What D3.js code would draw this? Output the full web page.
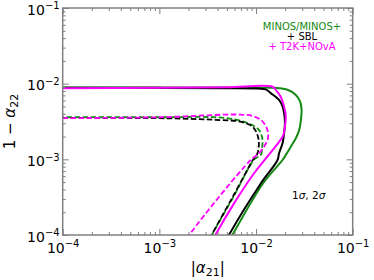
<!DOCTYPE html>
<html>
<head>
<meta charset="utf-8">
<script src="https://cdn.jsdelivr.net/npm/d3@7"></script>
<style>
  body { margin: 0; background: #fff; }
  text { font-family: "DejaVu Sans", sans-serif; }
</style>
</head>
<body>
<div id="chart-area"></div>
<script>
// contour points: [|alpha21|, 1 - alpha22]
var greenSolid = [[1e-4,0.0089],[1e-3,0.0089],[0.006,0.0089],[0.0154,0.0088],[0.0212,0.0083],[0.0258,0.0071],[0.0286,0.0058],[0.0296,0.0045],[0.0291,0.0033],[0.028,0.00245],[0.0258,0.0019],[0.0229,0.00147],[0.0203,0.00114],[0.0188,0.00098],[0.0118,0.00048],[0.0057,0.0001],[0.0046,0.00006]]
var blackSolid = [[1e-4,0.00885],[1e-3,0.0088],[0.005,0.0087],[0.0105,0.0086],[0.0126,0.0084],[0.0142,0.0075],[0.0173,0.0061],[0.0188,0.005],[0.0195,0.0041],[0.0199,0.003],[0.0195,0.0022],[0.0188,0.00163],[0.0173,0.0012],[0.0167,0.00098],[0.0112,0.00048],[0.00525,0.0001],[0.0043,0.00006]]
var magentaSolid = [[1e-4,0.0087],[1e-3,0.0088],[0.005,0.009],[0.0148,0.0091],[0.016,0.0083],[0.018,0.0067],[0.0195,0.005],[0.0203,0.0037],[0.0199,0.0027],[0.0192,0.0021],[0.0164,0.00155],[0.0131,0.00109],[0.0095,0.00065],[0.0059,0.00026],[0.0038,0.0001],[0.0031,0.00006]]
var greenDashed = [[1e-4,0.0036],[1e-3,0.0036],[0.005,0.0035],[0.0088,0.0029],[0.0107,0.00245],[0.0116,0.0019],[0.0116,0.00147],[0.0112,0.00114],[0.0096,0.00100],[0.006,0.00034],[0.0035,0.0001],[0.0029,0.00006]]
var blackDashed = [[1e-4,0.0035],[1e-3,0.0035],[0.0043,0.0033],[0.0069,0.00315],[0.0092,0.0027],[0.01035,0.0021],[0.0107,0.00163],[0.01035,0.0012],[0.0095,0.00103],[0.0059,0.00034],[0.00347,0.0001],[0.0028,0.00006]]
var magentaDashed = [[1e-4,0.0035],[1e-3,0.0036],[0.0069,0.0039],[0.0095,0.0037],[0.0116,0.0032],[0.0131,0.00245],[0.0133,0.0019],[0.0121,0.00147],[0.0107,0.0012],[0.0088,0.00098],[0.0021,0.000105],[0.0016,0.00006]]

var curves = [
  {pts: greenSolid, color: "#138a13", dash: null, offset: 0},
  {pts: greenDashed, color: "#138a13", dash: "5.5,2.5", offset: 4},
  {pts: blackSolid, color: "#000", dash: null, offset: 0},
  {pts: blackDashed, color: "#000", dash: "5.5,2.5", offset: 0},
  {pts: magentaSolid, color: "#ff00ff", dash: null, offset: 0},
  {pts: magentaDashed, color: "#ff00ff", dash: "5.5,2.5", offset: 0}
]

var majorExps = [-4, -3, -2, -1]
var legendLines = ["MINOS/MINOS+", "+ SBL", "+ T2K+NOvA"]
var legendColors = ["#138a13", "#000", "#ff00ff"]

var canvasWidth = 374, canvasHeight = 280
var plot = {left: 62.7, right: 352.7, top: 8, bottom: 235}

var svg = d3.select("#chart-area").append("svg")
  .attr("width", canvasWidth).attr("height", canvasHeight)

var x = d3.scaleLog().domain([1e-4, 1e-1]).range([plot.left, plot.right])
var y = d3.scaleLog().domain([1e-4, 1e-1]).range([plot.bottom, plot.top])

var majors = majorExps.map(function(e){ return Math.pow(10, e) })
var minors = []
for (var e = -4; e < -1; e++) {
  for (var k = 2; k <= 9; k++) minors.push(k * Math.pow(10, e))
}

svg.append("clipPath").attr("id", "clip")
  .append("rect")
  .attr("x", plot.left).attr("y", plot.top)
  .attr("width", plot.right - plot.left).attr("height", plot.bottom - plot.top)

var line = d3.line()
  .x(function(d){ return x(d[0]) })
  .y(function(d){ return y(d[1]) })
  .curve(d3.curveCatmullRom.alpha(0.5))

svg.append("g").attr("clip-path", "url(#clip)")
  .selectAll("path")
  .data(curves)
  .enter().append("path")
    .attr("d", function(d){ return line(d.pts) })
    .attr("fill", "none")
    .attr("stroke", function(d){ return d.color })
    .attr("stroke-width", function(d){ return d.dash ? 1.8 : 2 })
    .attr("stroke-dasharray", function(d){ return d.dash })
    .attr("stroke-dashoffset", function(d){ return d.offset })

var frameColor = "#808080"

function styleAxis(g) {
  g.select(".domain").remove()
  g.selectAll(".tick line").attr("stroke", frameColor).attr("stroke-width", 1)
}

function supLabel(g) {
  g.selectAll(".tick text").each(function(d){
    var t = d3.select(this).text(null)
    t.append("tspan").text("10")
    t.append("tspan").attr("dy", "-0.55em").attr("font-size", "10px")
      .text("\u2212" + Math.round(-Math.log10(d)))
  })
}

// bottom
svg.append("g").attr("transform", "translate(0," + plot.bottom + ")")
  .call(d3.axisBottom(x).tickValues(minors).tickSize(-3).tickFormat(""))
  .call(styleAxis)
svg.append("g").attr("transform", "translate(0," + plot.bottom + ")")
  .call(d3.axisBottom(x).tickValues(majors).tickSize(-6).tickPadding(8))
  .call(styleAxis)
  .call(supLabel)
  .selectAll("text").attr("font-size", "14px").attr("fill", "#000")
  .attr("font-family", "DejaVu Sans")

// top
svg.append("g").attr("transform", "translate(0," + plot.top + ")")
  .call(d3.axisTop(x).tickValues(minors).tickSize(-3).tickFormat(""))
  .call(styleAxis)
svg.append("g").attr("transform", "translate(0," + plot.top + ")")
  .call(d3.axisTop(x).tickValues(majors).tickSize(-6).tickFormat(""))
  .call(styleAxis)

// left
svg.append("g").attr("transform", "translate(" + plot.left + ",0)")
  .call(d3.axisLeft(y).tickValues(minors).tickSize(-3).tickFormat(""))
  .call(styleAxis)
svg.append("g").attr("transform", "translate(" + plot.left + ",0)")
  .call(d3.axisLeft(y).tickValues(majors).tickSize(-6).tickPadding(3))
  .call(styleAxis)
  .call(supLabel)
  .selectAll("text").attr("font-size", "14px").attr("fill", "#000")
  .attr("font-family", "DejaVu Sans").attr("dy", "0.45em")

// right
svg.append("g").attr("transform", "translate(" + plot.right + ",0)")
  .call(d3.axisRight(y).tickValues(minors).tickSize(-3).tickFormat(""))
  .call(styleAxis)
svg.append("g").attr("transform", "translate(" + plot.right + ",0)")
  .call(d3.axisRight(y).tickValues(majors).tickSize(-6).tickFormat(""))
  .call(styleAxis)

svg.append("rect")
  .attr("x", plot.left).attr("y", plot.top)
  .attr("width", plot.right - plot.left).attr("height", plot.bottom - plot.top)
  .attr("fill", "none").attr("stroke", frameColor).attr("stroke-width", 1.5)

// axis titles
var xt = svg.append("text")
  .attr("x", (plot.left + plot.right) / 2).attr("y", 273)
  .attr("text-anchor", "middle").attr("font-size", "15px")
xt.append("tspan").text("|")
xt.append("tspan").attr("font-style", "italic").text("\u03b1")
xt.append("tspan").attr("dy", "3").attr("font-size", "11px").text("21")
xt.append("tspan").attr("dy", "-3").text("|")

var yt = svg.append("text")
  .attr("transform", "translate(15," + ((plot.top + plot.bottom) / 2) + ") rotate(-90)")
  .attr("text-anchor", "middle").attr("font-size", "15px")
yt.append("tspan").text("1 \u2212 ")
yt.append("tspan").attr("font-style", "italic").text("\u03b1")
yt.append("tspan").attr("dy", "3").attr("font-size", "11px").text("22")

// legend
svg.selectAll(".legend")
  .data(legendLines)
  .enter().append("text")
    .attr("class", "legend")
    .attr("x", 302)
    .attr("y", function(d, i){ return 30.2 + i * 9.8 })
    .attr("text-anchor", "middle")
    .attr("font-size", "10px")
    .attr("fill", function(d, i){ return legendColors[i] })
    .text(function(d){ return d })

var sig = svg.append("text").attr("x", 292).attr("y", 199).attr("font-size", "10.5px")
sig.append("tspan").text("1")
sig.append("tspan").attr("font-style", "italic").text("\u03c3")
sig.append("tspan").text(", 2")
sig.append("tspan").attr("font-style", "italic").text("\u03c3")
</script>
</body>
</html>
